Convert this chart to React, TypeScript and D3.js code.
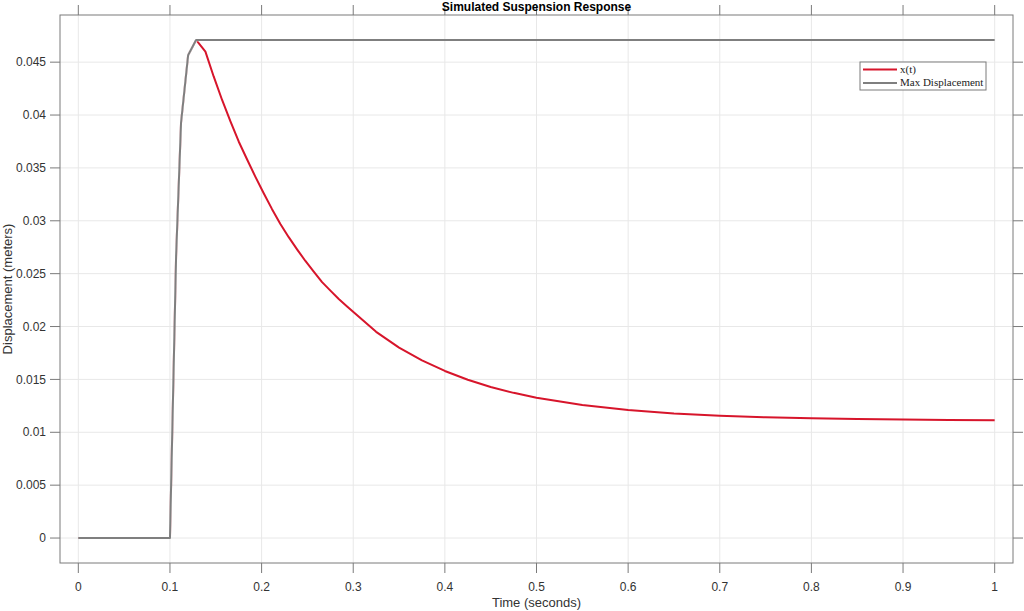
import * as d3 from 'd3'

const W = 1024
const H = 611
const BOX = { left: 60, right: 1013, top: 15, bottom: 563 }
const TICK = 10

// simulated response
const TIME = [
  0, 0.1, 0.1067, 0.1121, 0.1198, 0.1285, 0.1387, 0.1477, 0.157, 0.166,
  0.175, 0.1842, 0.193, 0.2023, 0.2114, 0.2205, 0.2296, 0.2387, 0.2478, 0.2569,
  0.266, 0.2751, 0.2842, 0.2933, 0.3024, 0.325, 0.35, 0.375, 0.4, 0.425,
  0.45, 0.475, 0.5, 0.55, 0.6, 0.65, 0.7, 0.75, 0.8, 0.85,
  0.9, 0.95, 1.0,
]
const DISP = [
  0, 0, 0.02668, 0.03929, 0.04565, 0.0471, 0.046, 0.04365, 0.0414, 0.0394,
  0.0375, 0.0358, 0.0342, 0.0326, 0.0311, 0.0297, 0.02845, 0.0273, 0.0262, 0.0252,
  0.0242, 0.0234, 0.0226, 0.0219, 0.0212, 0.0195, 0.0180, 0.0168, 0.0158, 0.01497,
  0.01428, 0.01373, 0.01327, 0.01258, 0.0121, 0.01178, 0.01157, 0.01142, 0.01133, 0.01125,
  0.0112, 0.01117, 0.01115,
]

const X_TICKS = [0, 0.1, 0.2, 0.3, 0.4, 0.5, 0.6, 0.7, 0.8, 0.9, 1]
const X_TICK_LABELS = ['0', '0.1', '0.2', '0.3', '0.4', '0.5', '0.6', '0.7', '0.8', '0.9', '1']
const Y_TICKS = [0, 0.005, 0.01, 0.015, 0.02, 0.025, 0.03, 0.035, 0.04, 0.045]
const Y_TICK_LABELS = ['0', '0.005', '0.01', '0.015', '0.02', '0.025', '0.03', '0.035', '0.04', '0.045']

const SERIES_NAMES = ['x(t)', 'Max Displacement']
const SERIES_COLORS = ['#d7152b', '#7f7f7f']

const SANS = '"Liberation Sans", Arial, Helvetica, sans-serif'
const SERIF = '"Liberation Serif", "Times New Roman", serif'

export default function App() {
  const x = d3.scaleLinear().domain([-0.02, 1.02]).range([BOX.left, BOX.right])
  const y = d3.scaleLinear().domain([-0.00236, 0.04946]).range([BOX.bottom, BOX.top])

  const points = TIME.map((t, i) => ({ t, v: DISP[i] }))
  // running maximum of x(t)
  let m = -Infinity
  const maxPoints = points.map(p => {
    m = Math.max(m, p.v)
    return { t: p.t, v: m }
  })

  const line = d3.line<{ t: number; v: number }>()
    .x(d => x(d.t))
    .y(d => y(d.v))

  const maxPath = line(maxPoints) || ''
  const cx = (BOX.left + BOX.right) / 2
  const cy = (BOX.top + BOX.bottom) / 2
  const boxColor = '#7a7a7a'
  const gridColor = '#e8e8e8'
  const labelColor = '#333'

  const legend = { x: 860, y: 62, w: 126, h: 28 }

  return (
    <div>
      <style>{`body{margin:0;background:#fff}`}</style>
      <svg width={W} height={H} style={{ display: 'block' }}>
        <defs>
          {/* hide x(t) wherever the max line lies on top of it */}
          <mask id="under-max" maskUnits="userSpaceOnUse" x={0} y={0} width={W} height={H}>
            <rect x={0} y={0} width={W} height={H} fill="#fff" />
            <path d={maxPath} fill="none" stroke="#000" strokeWidth={2.6} strokeLinejoin="round" />
          </mask>
        </defs>
        <rect x={0} y={0} width={W} height={H} fill="#fff" />

        {/* grid */}
        {X_TICKS.map(t => (
          <line key={'gx' + t} x1={x(t)} x2={x(t)} y1={BOX.top} y2={BOX.bottom}
            stroke={gridColor} strokeWidth={1} />
        ))}
        {Y_TICKS.map(t => (
          <line key={'gy' + t} x1={BOX.left} x2={BOX.right} y1={y(t)} y2={y(t)}
            stroke={gridColor} strokeWidth={1} />
        ))}

        {/* series */}
        <path d={line(points) || ''} fill="none" stroke={SERIES_COLORS[0]} strokeWidth={2}
          strokeLinejoin="round" mask="url(#under-max)" />
        <path d={maxPath} fill="none" stroke={SERIES_COLORS[1]} strokeWidth={2}
          strokeLinejoin="round" />

        {/* box */}
        <rect x={BOX.left} y={BOX.top} width={BOX.right - BOX.left} height={BOX.bottom - BOX.top}
          fill="none" stroke={boxColor} strokeWidth={1} />

        {/* ticks, pointing outward on all sides */}
        {X_TICKS.map(t => (
          <g key={'tx' + t}>
            <line x1={x(t)} x2={x(t)} y1={BOX.bottom} y2={BOX.bottom + TICK} stroke={boxColor} />
            <line x1={x(t)} x2={x(t)} y1={BOX.top} y2={BOX.top - TICK} stroke={boxColor} />
          </g>
        ))}
        {Y_TICKS.map(t => (
          <g key={'ty' + t}>
            <line x1={BOX.left} x2={BOX.left - TICK} y1={y(t)} y2={y(t)} stroke={boxColor} />
            <line x1={BOX.right} x2={BOX.right + TICK} y1={y(t)} y2={y(t)} stroke={boxColor} />
          </g>
        ))}

        {/* tick labels */}
        {X_TICKS.map((t, i) => (
          <text key={'lx' + t} x={x(t)} y={591} textAnchor="middle" fontFamily={SANS}
            fontSize={12} fill={labelColor}>{X_TICK_LABELS[i]}</text>
        ))}
        {Y_TICKS.map((t, i) => (
          <text key={'ly' + t} x={46} y={y(t)} dy="0.35em" textAnchor="end" fontFamily={SANS}
            fontSize={12} fill={labelColor}>{Y_TICK_LABELS[i]}</text>
        ))}

        {/* axis labels and title */}
        <text x={cx} y={607} textAnchor="middle" fontFamily={SANS} fontSize={13}
          fill={labelColor}>Time (seconds)</text>
        <text transform={`translate(12,${cy}) rotate(-90)`} textAnchor="middle" fontFamily={SANS}
          fontSize={13} fill={labelColor}>Displacement (meters)</text>
        <text x={cx} y={10.5} textAnchor="middle" fontFamily={SANS} fontSize={12}
          fontWeight="bold" fill="#000">Simulated Suspension Response</text>

        {/* legend */}
        <rect x={legend.x} y={legend.y} width={legend.w} height={legend.h} fill="#fff"
          stroke={boxColor} strokeWidth={1} />
        {SERIES_NAMES.map((name, i) => {
          const ly = legend.y + 7.5 + i * 13.4
          return (
            <g key={name}>
              <line x1={legend.x + 3} x2={legend.x + 37} y1={ly} y2={ly}
                stroke={SERIES_COLORS[i]} strokeWidth={2} />
              <text x={legend.x + 40} y={ly} dy="0.32em" fontFamily={SERIF} fontSize={11}
                fill="#222">{name}</text>
            </g>
          )
        })}
      </svg>
    </div>
  )
}
